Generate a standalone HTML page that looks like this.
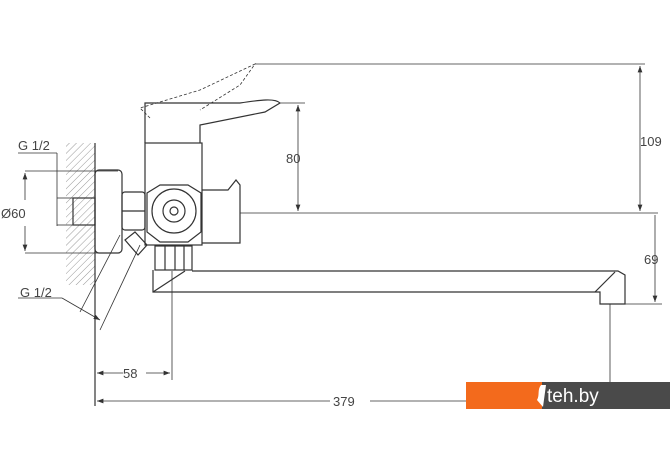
<!DOCTYPE html>
<html><head><style>body{margin:0;background:#fff}svg{display:block}text{font-family:"Liberation Sans",sans-serif;fill:#444}</style></head><body>
<svg width="670" height="471" viewBox="0 0 670 471" xmlns="http://www.w3.org/2000/svg">
<defs>
<pattern id="h" width="5" height="5" patternUnits="userSpaceOnUse" patternTransform="rotate(45)"><line x1="0" y1="0" x2="0" y2="5" stroke="#999" stroke-width="1"/></pattern>
<marker id="a" markerWidth="8" markerHeight="6" refX="8" refY="3" orient="auto-start-reverse"><path d="M0,0 L8,3 L0,6z" fill="#333"/></marker>
</defs>
<g fill="none" stroke="#333" stroke-width="1.2">
<!-- wall -->
<rect x="66" y="143" width="29" height="142" fill="url(#h)" stroke="none"/>
<line x1="95" y1="143" x2="95" y2="406"/>
<!-- top dims -->
<line x1="255" y1="64" x2="645" y2="64" stroke-width="0.8"/>
<line x1="640" y1="66" x2="640" y2="211" stroke-width="0.8" marker-start="url(#a)" marker-end="url(#a)"/>
<line x1="240" y1="213" x2="658" y2="213" stroke-width="0.8"/>
<line x1="280" y1="103" x2="305" y2="103" stroke-width="0.8"/>
<line x1="298" y1="105" x2="298" y2="211" stroke-width="0.8" marker-start="url(#a)" marker-end="url(#a)"/>
<line x1="655" y1="215" x2="655" y2="302" stroke-width="0.8" marker-end="url(#a)"/>
<line x1="625" y1="304" x2="662" y2="304" stroke-width="0.8"/>
<!-- Ø60 -->
<line x1="25" y1="171" x2="118" y2="171" stroke-width="0.8"/>
<line x1="25" y1="253" x2="118" y2="253" stroke-width="0.8"/>
<line x1="25" y1="173" x2="25" y2="200" stroke-width="0.8" marker-start="url(#a)"/>
<line x1="25" y1="226" x2="25" y2="251" stroke-width="0.8" marker-end="url(#a)"/>
<line x1="18" y1="153" x2="57" y2="153" stroke-width="0.8"/>
<line x1="57" y1="153" x2="57" y2="226" stroke-width="0.8"/>
<line x1="57" y1="198" x2="73" y2="198" stroke-width="0.8"/>
<line x1="57" y1="225" x2="73" y2="225" stroke-width="0.8"/>
<!-- lower G1/2 -->
<line x1="18" y1="298" x2="62" y2="298" stroke-width="0.8"/>
<line x1="62" y1="298" x2="100" y2="320" stroke-width="0.8" marker-end="url(#a)"/>
<line x1="100" y1="330" x2="140" y2="245" stroke-width="0.8"/>
<line x1="80" y1="312" x2="120" y2="235" stroke-width="0.8"/>
<!-- nipple, flange, nut -->
<rect x="73" y="198" width="22" height="27"/>
<rect x="95" y="170" width="27" height="83" rx="4"/>
<rect x="122" y="192" width="23" height="38" rx="3"/>
<line x1="122" y1="211" x2="145" y2="211"/>
<path d="M125 240 L138 255 L147 245 L135 232z"/>
<!-- body -->
<rect x="145" y="143" width="57" height="102"/>
<path d="M147 193 L160 185 L188 185 L201 193 L201 232 L188 242 L160 242 L147 232z" fill="#fff"/>
<circle cx="174" cy="211" r="22"/>
<circle cx="174" cy="211" r="11"/>
<circle cx="174" cy="211" r="4"/>
<path d="M202 190 L228 190 L236 180 L240 185 L240 243 L202 243"/>
<!-- handle -->
<path d="M145 143 L145 103 L240 103 C260 100 275 98 280 103 L265 112 L200 125 L200 143"/>
<path d="M150 118 L140 108 L200 90 L255 64 L240 85 L200 110" stroke-dasharray="3 2" stroke-width="0.8"/>
<!-- aerator/outlet -->
<rect x="155" y="246" width="37" height="24"/>
<line x1="165" y1="246" x2="165" y2="270"/><line x1="175" y1="246" x2="175" y2="270"/><line x1="184" y1="246" x2="184" y2="270"/>
<!-- spout -->
<path d="M153 270 L153 292 L600 292 L600 304 L625 304 L625 275 L618 271 L192 271"/>
<path d="M153 292 L185 271"/>
<path d="M595 292 L615 272"/>
<!-- 58 and 379 -->
<line x1="172" y1="271" x2="172" y2="380" stroke-width="0.8"/>
<line x1="610" y1="304" x2="610" y2="382" stroke-width="0.8"/>
<line x1="97" y1="373" x2="123" y2="373" stroke-width="0.8" marker-start="url(#a)"/>
<line x1="146" y1="373" x2="170" y2="373" stroke-width="0.8" marker-end="url(#a)"/>
<line x1="97" y1="401" x2="330" y2="401" stroke-width="0.8" marker-start="url(#a)"/>
<line x1="370" y1="401" x2="466" y2="401" stroke-width="0.8"/>
</g>
<g font-size="13">
<text x="18" y="150">G 1/2</text>
<text x="1" y="218">Ø60</text>
<text x="20" y="297">G 1/2</text>
<text x="286" y="163">80</text>
<text x="640" y="146">109</text>
<text x="644" y="264">69</text>
<text x="123" y="378">58</text>
<text x="333" y="406">379</text>
</g>
<rect x="466" y="382" width="76" height="27" fill="#f36a1c"/>
<rect x="542" y="382" width="128" height="27" fill="#4a4a4a"/>
<path d="M541 385 C537 390 540 395 537 400 L543 407 L546 385z" fill="#fff"/>
<text x="547" y="402" font-size="19" style="fill:#fff">teh.by</text>
</svg>
</body></html>
